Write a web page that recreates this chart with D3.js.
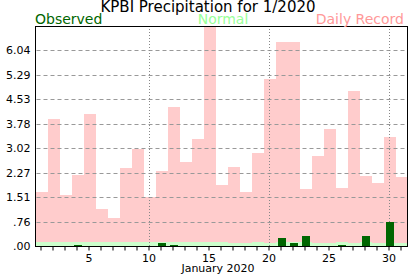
<!DOCTYPE html>
<html>
<head>
<meta charset="utf-8">
<script src="https://cdn.jsdelivr.net/npm/d3@7"></script>
<style>
html, body { margin: 0; padding: 0; background: #fff; }
svg { display: block; font-family: "DejaVu Sans", Verdana, sans-serif; }
</style>
</head>
<body>
<svg id="chart" width="417" height="276"></svg>
<script>
const days = d3.range(1, 32);
const recordValues = [1.67, 3.92, 1.58, 2.20, 4.07, 1.15, 0.87, 2.42, 2.99, 1.52,
                      2.31, 4.29, 2.59, 3.30, 6.80, 1.89, 2.44, 1.68, 2.87, 5.15,
                      6.30, 6.30, 1.76, 2.78, 3.61, 1.80, 4.78, 2.17, 1.95, 3.36, 2.14];
const normalValues = [0.12, 0.12, 0.12, 0.12, 0.12, 0.12, 0.12, 0.12, 0.12, 0.12,
                      0.12, 0.12, 0.12, 0.12, 0.12, 0.12, 0.09, 0.09, 0.12, 0.09,
                      0.12, 0.12, 0.12, 0.09, 0.09, 0.12, 0.09, 0.12, 0.09, 0.09, 0.09];
const observedValues = [0, 0, 0, 0.03, 0, 0, 0, 0, 0, 0,
                        0.09, 0.03, 0, 0, 0, 0, 0, 0, 0, 0,
                        0.25, 0.09, 0.31, 0, 0, 0.03, 0, 0.31, 0, 0.74, 0];
const yMax = 6.80;
const yTickValues = [0, 0.7556, 1.5111, 2.2667, 3.0222, 3.7778, 4.5333, 5.2889, 6.0444];
const yTickLabels = [".00", ".76", "1.51", "2.27", "3.02", "3.78", "4.53", "5.29", "6.04"];
const xTickLabels = [5, 10, 15, 20, 25, 30];
const xGridDays = [10, 20, 30];
const titleText = "KPBI Precipitation for 1/2020";
const xAxisTitle = "January 2020";
const legendItems = ["Observed", "Normal", "Daily Record"];

const L = 35.5, R = 407.5, T = 26, B = 246;
const svg = d3.select("#chart");

const x = d3.scaleBand().domain(days).range([36, 408]).padding(0);
const y = d3.scaleLinear().domain([0, yMax]).range([B, T]);

// record bars
svg.append("g").attr("shape-rendering", "crispEdges").selectAll("rect").data(days).join("rect")
  .attr("x", d => x(d)).attr("width", x.bandwidth())
  .attr("y", (d, i) => y(recordValues[i]))
  .attr("height", (d, i) => B - y(recordValues[i]))
  .attr("fill", "#ffcccc");

// normal bars
svg.append("g").attr("shape-rendering", "crispEdges").selectAll("rect").data(days).join("rect")
  .attr("x", d => x(d)).attr("width", x.bandwidth())
  .attr("y", (d, i) => y(normalValues[i]))
  .attr("height", (d, i) => B - y(normalValues[i]))
  .attr("fill", "#ccffcc");

// horizontal dashed gridlines
svg.append("g").selectAll("line").data(yTickValues.slice(1)).join("line")
  .attr("x1", L + 1).attr("x2", R)
  .attr("y1", d => Math.round(y(d)) + 0.5).attr("y2", d => Math.round(y(d)) + 0.5)
  .attr("stroke", "#999").attr("stroke-width", 1).attr("stroke-dasharray", "4,3");

// vertical dotted gridlines
svg.append("g").selectAll("line").data(xGridDays).join("line")
  .attr("x1", d => Math.floor(x(d) + x.bandwidth() / 2) - 0.5)
  .attr("x2", d => Math.floor(x(d) + x.bandwidth() / 2) - 0.5)
  .attr("y1", T).attr("y2", B)
  .attr("stroke", "#888").attr("stroke-width", 1).attr("stroke-dasharray", "1,2");

// observed bars
svg.append("g").attr("shape-rendering", "crispEdges").selectAll("rect").data(days.filter((d, i) => observedValues[i] > 0)).join("rect")
  .attr("x", d => x(d) + 2).attr("width", x.bandwidth() - 4)
  .attr("y", d => y(observedValues[d - 1]))
  .attr("height", d => B - y(observedValues[d - 1]))
  .attr("fill", "#006600");

// frame
svg.append("rect").attr("x", L).attr("y", T + 0.5).attr("width", R - L).attr("height", B - T)
  .attr("fill", "none").attr("stroke", "#000").attr("stroke-width", 1);

// x axis ticks
const xAxis = d3.axisBottom(x).tickSize(4).tickFormat(d => xTickLabels.includes(d) ? d : "");
const gx = svg.append("g").attr("transform", `translate(-1,${B + 0.5})`).call(xAxis);
gx.select(".domain").remove();
gx.selectAll(".tick line").attr("stroke", "#000");
gx.selectAll(".tick text").attr("font-size", 11).attr("font-family", "DejaVu Sans").attr("fill", "#000").attr("dy", "0.78em").attr("y", 7);

// y axis labels
const yAxis = d3.axisLeft(y).tickValues(yTickValues).tickSize(0).tickPadding(5)
  .tickFormat((d, i) => yTickLabels[i]);
const gy = svg.append("g").attr("transform", `translate(${L},0)`).call(yAxis);
gy.select(".domain").remove();
gy.selectAll(".tick text").attr("font-size", 11).attr("font-family", "DejaVu Sans").attr("fill", "#000");

// title
svg.append("text").attr("x", 208).attr("y", 12).attr("text-anchor", "middle")
  .attr("font-size", 15).attr("fill", "#000").text(titleText);

// legend
svg.append("text").attr("x", 35).attr("y", 24).attr("font-size", 14).attr("fill", "#006600").text(legendItems[0]);
svg.append("text").attr("x", 223).attr("y", 24).attr("text-anchor", "middle").attr("font-size", 14).attr("fill", "#99ff99").text(legendItems[1]);
svg.append("text").attr("x", 404).attr("y", 24).attr("text-anchor", "end").attr("font-size", 14).attr("fill", "#ff9999").text(legendItems[2]);

// x axis title
svg.append("text").attr("x", 218).attr("y", 272).attr("text-anchor", "middle")
  .attr("font-size", 11).attr("fill", "#000").text(xAxisTitle);
</script>
</body>
</html>
